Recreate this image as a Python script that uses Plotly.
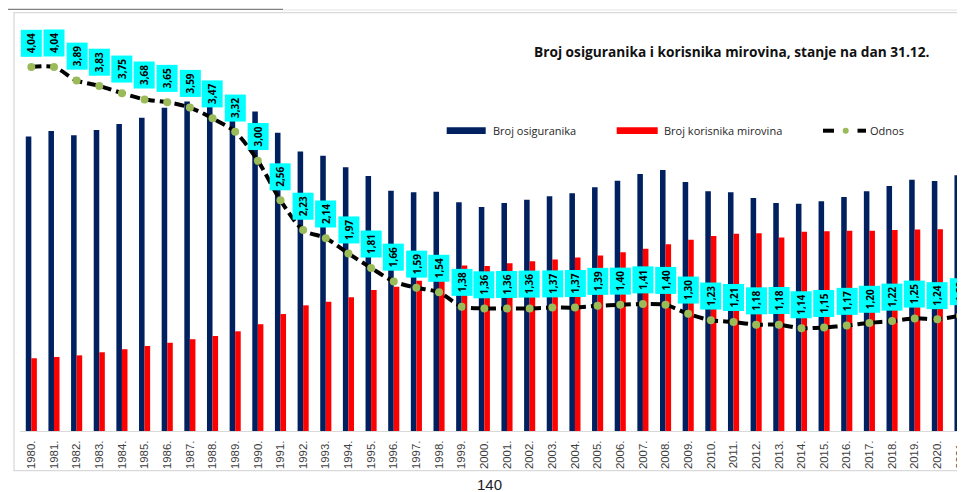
import plotly.graph_objects as go

years = [f"{y}." for y in range(1980, 2022)]

# Broj osiguranika (thousands, estimated)
osiguranici = [1825, 1860, 1833, 1866, 1903, 1942, 2004, 2042, 2044, 2052,
               1980, 1849, 1732, 1707, 1635, 1581, 1490, 1480, 1484, 1418,
               1389, 1414, 1434, 1455, 1474, 1511, 1552, 1593, 1618, 1544,
               1486, 1480, 1445, 1414, 1409, 1424, 1451, 1486, 1519, 1558,
               1550, 1585]

# Broj korisnika mirovina (thousands, estimated)
korisnici = [451, 459, 469, 488, 507, 527, 547, 569, 589, 618,
             662, 725, 779, 802, 829, 874, 895, 932, 961, 1026,
             1023, 1040, 1052, 1063, 1076, 1088, 1108, 1130, 1157, 1185,
             1209, 1223, 1226, 1200, 1235, 1239, 1242, 1241, 1246, 1249,
             1251, 1243]

# Odnos
odnos = [4.04, 4.04, 3.89, 3.83, 3.75, 3.68, 3.65, 3.59, 3.47, 3.32,
         3.00, 2.56, 2.23, 2.14, 1.97, 1.81, 1.66, 1.59, 1.54, 1.38,
         1.36, 1.36, 1.36, 1.37, 1.37, 1.39, 1.40, 1.41, 1.40, 1.30,
         1.23, 1.21, 1.18, 1.18, 1.14, 1.15, 1.17, 1.20, 1.22, 1.25,
         1.24, 1.28]

title_text = "Broj osiguranika i korisnika mirovina, stanje na dan 31.12."
legend_names = ["Broj osiguranika", "Broj korisnika mirovina", "Odnos"]
page_number = "140"

NAVY = "#002060"
RED = "#ff0000"
GREEN = "#9bbb59"
CYAN = "#00ffff"

# screenshot is 965x492; the html body adds an 8px margin
OFF = 8
SW, SH = 965, 492
W, H = SW - OFF, SH - OFF
# plot area in screenshot pixels
PL, PR, PT, PB = 20, 965, 40, 431


def px(x):
    return (x - PL) / (PR - PL)


def py(y):
    return (PB - y) / (PB - PT)


fig = go.Figure()
fig.add_trace(go.Bar(x=years, y=osiguranici, name=legend_names[0],
                     marker=dict(color=NAVY, line=dict(width=0)), showlegend=False))
fig.add_trace(go.Bar(x=years, y=korisnici, name=legend_names[1],
                     marker=dict(color=RED, line=dict(width=0)), showlegend=False))
fig.add_trace(go.Scatter(x=years, y=odnos, name=legend_names[2], yaxis="y2",
                         mode="lines+markers",
                         line=dict(color="black", width=4, dash="10px,5px",
                                   shape="spline", smoothing=0.8),
                         marker=dict(color=GREEN, size=8),
                         showlegend=False))

annotations = []
for i, r in enumerate(odnos):
    annotations.append(dict(
        x=i, y=r, xref="x", yref="y2", text="<b>" + f"{r:.2f}".replace(".", ",") + "</b>",
        showarrow=False, textangle=-90, xanchor="center", yanchor="bottom",
        yshift=10, bgcolor=CYAN, borderpad=3,
        font=dict(family="Open Sans", size=10, color="black")))

annotations.append(dict(
    x=px(731), y=py(52), xref="paper", yref="paper", text=f"<b>{title_text}</b>",
    showarrow=False, xanchor="center", yanchor="middle",
    font=dict(family="Open Sans", size=13.7, color="#111111")))

leg_font = dict(family="Open Sans", size=11, color="#262626")
annotations.append(dict(x=px(491), y=py(130.7), xref="paper", yref="paper",
                        text=legend_names[0], showarrow=False, xanchor="left",
                        yanchor="middle", font=leg_font))
annotations.append(dict(x=px(662), y=py(130.7), xref="paper", yref="paper",
                        text=legend_names[1], showarrow=False, xanchor="left",
                        yanchor="middle", font=leg_font))
annotations.append(dict(x=px(867.5), y=py(130.7), xref="paper", yref="paper",
                        text=legend_names[2], showarrow=False, xanchor="left",
                        yanchor="middle", font=leg_font))
annotations.append(dict(x=px(489), y=py(484), xref="paper", yref="paper",
                        text=page_number, showarrow=False, xanchor="center",
                        yanchor="middle",
                        font=dict(family="Liberation Sans", size=15, color="#222222")))

shapes = [
    dict(type="line", xref="paper", yref="paper", x0=px(7), x1=px(283),
         y0=py(9.3), y1=py(9.3), line=dict(color="#808080", width=1.3)),
    dict(type="line", xref="paper", yref="paper", x0=px(283), x1=px(966),
         y0=py(10), y1=py(10), line=dict(color="#e3e3e3", width=1)),
    dict(type="rect", xref="paper", yref="paper", x0=px(14), x1=px(968),
         y0=py(470.7), y1=py(12.7), line=dict(color="#d9d9d9", width=1.3)),
    # legend swatches
    dict(type="rect", xref="paper", yref="paper", x0=px(446.7), x1=px(485.7),
         y0=py(134), y1=py(127.3), fillcolor=NAVY, line=dict(width=0)),
    dict(type="rect", xref="paper", yref="paper", x0=px(616.7), x1=px(657.7),
         y0=py(134), y1=py(127.3), fillcolor=RED, line=dict(width=0)),
    dict(type="line", xref="paper", yref="paper", x0=px(823), x1=px(834),
         y0=py(130.7), y1=py(130.7), line=dict(color="black", width=4)),
    dict(type="line", xref="paper", yref="paper", x0=px(857.5), x1=px(866),
         y0=py(130.7), y1=py(130.7), line=dict(color="black", width=4)),
    dict(type="circle", xref="paper", yref="paper", x0=px(842.7), x1=px(848.7),
         y0=py(133.7), y1=py(127.7), fillcolor=GREEN, line=dict(width=0)),
]

fig.update_layout(
    width=W, height=H,
    margin=dict(l=PL - OFF, r=SW - PR, t=PT - OFF, b=SH - PB, pad=0),
    paper_bgcolor="white", plot_bgcolor="white",
    barmode="group", bargap=0.51, bargroupgap=0,
    xaxis=dict(type="category", range=[-0.5, 41.22], showgrid=False,
               showline=True, linecolor="#d9d9d9", linewidth=1,
               ticks="outside", ticklen=4, tickcolor="rgba(0,0,0,0)",
               tickangle=-90, ticklabeloverflow="allow",
               tickfont=dict(family="Liberation Sans", size=11.4, color="#404040")),
    yaxis=dict(range=[0, 2424], visible=False, showgrid=False, zeroline=False),
    yaxis2=dict(range=[0, 391 / 90.1], visible=False, overlaying="y",
                showgrid=False, zeroline=False),
    annotations=annotations,
    shapes=shapes,
    showlegend=False,
)

fig.write_html("out.html")
